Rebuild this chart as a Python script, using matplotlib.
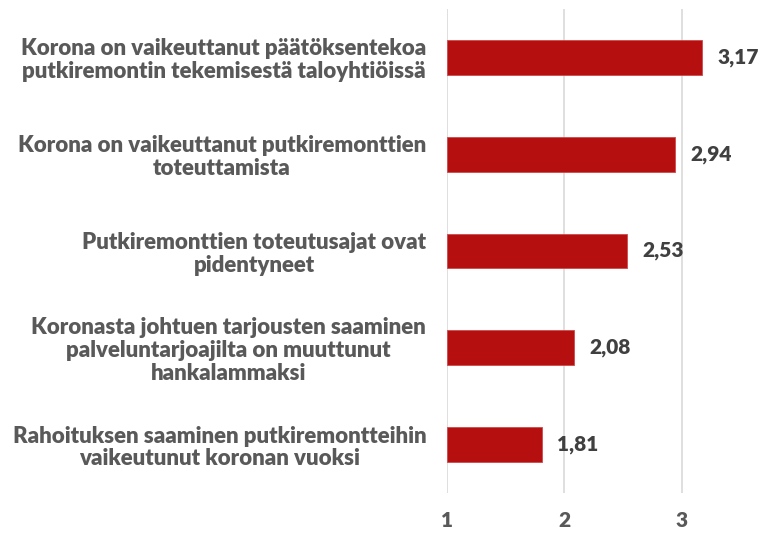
import matplotlib
matplotlib.use("Agg")
import matplotlib.pyplot as plt

# ---- data (top to bottom as in the chart) ----------------------------------
labels = [
    "Korona on vaikeuttanut päätöksentekoa\nputkiremontin tekemisestä taloyhtiöissä",
    "Korona on vaikeuttanut putkiremonttien\ntoteuttamista",
    "Putkiremonttien toteutusajat ovat\npidentyneet",
    "Koronasta johtuen tarjousten saaminen\npalveluntarjoajilta on muuttunut\nhankalammaksi",
    "Rahoituksen saaminen putkiremontteihin\nvaikeutunut koronan vuoksi",
]
values = [3.17, 2.94, 2.53, 2.08, 1.81]
xticks = [1, 2, 3]

BAR_COLOR = "#B50F0F"
TEXT_COLOR = "#595959"
VALUE_COLOR = "#404040"
GRID_COLOR = "#D9D9D9"

plt.rcParams["font.family"] = ["Lato", "DejaVu Sans"]

fig = plt.figure(figsize=(7.64, 5.34), dpi=100)
ax = fig.add_axes([447 / 764, 1 - 493 / 534, 1 - 447 / 764, 484 / 534])

ypos = list(range(len(values)))
base = 1.0
ax.barh(ypos, [v - base for v in values], left=base, height=0.36,
        color=BAR_COLOR, edgecolor="#D04848", linewidth=0.6, zorder=3)

for y, v in zip(ypos, values):
    ax.text(v + 0.13, y, f"{v:.2f}".replace(".", ","), va="center", ha="left",
            fontsize=15, fontweight="heavy", color=VALUE_COLOR)

ax.set_ylim(len(values) - 0.5, -0.5)
ax.set_xlim(1, 3.7)
ax.set_yticks(ypos)
ax.set_yticklabels(labels, fontsize=16, fontweight="heavy", color=TEXT_COLOR,
                   multialignment="center", linespacing=1.1)
ax.set_xticks(xticks)
ax.set_xticklabels([str(t) for t in xticks], fontsize=15, fontweight="heavy",
                   color=TEXT_COLOR)
ax.tick_params(axis="y", length=0, pad=15)
ax.tick_params(axis="x", length=0, pad=13)

ax.grid(axis="x", color=GRID_COLOR, linewidth=1.2, zorder=0)
ax.set_axisbelow(True)
for side in ax.spines:
    ax.spines[side].set_visible(False)

fig.savefig("out.png", dpi=100)
